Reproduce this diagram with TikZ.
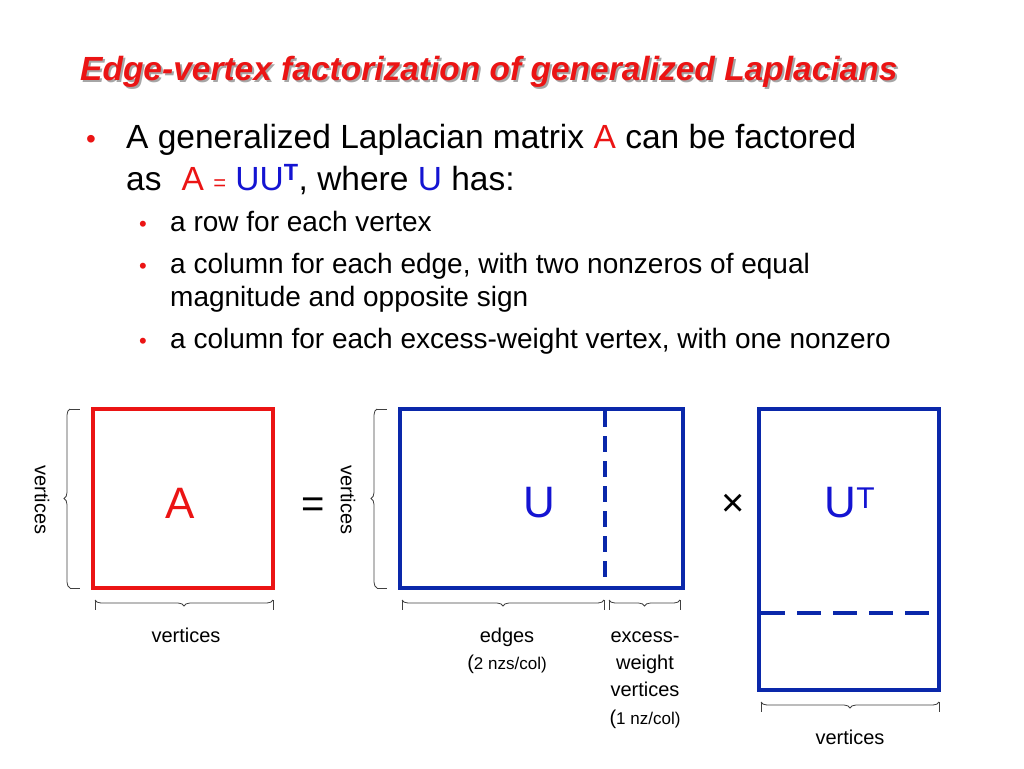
\documentclass[tikz,border=0pt]{standalone}
\usepackage{fontspec}
\setmainfont{Liberation Sans}
\usetikzlibrary{decorations.pathreplacing}
\definecolor{myred}{RGB}{235,20,20}
\definecolor{myblue}{RGB}{10,40,170}
\definecolor{txtblue}{RGB}{20,20,210}
\begin{document}
\begin{tikzpicture}[x=1pt,y=-1pt,
  mbox/.style={line width=3.5pt},
  brc/.style={decorate,decoration={brace,amplitude=6pt},line width=0.8pt,black!75},
  tick/.style={line width=0.8pt,black!75},
  lab/.style={font=\fontsize{20}{24}\selectfont,anchor=base},
  bul/.style={anchor=base west,inner sep=0pt,font=\fontsize{33.5}{38}\selectfont},
  sbul/.style={anchor=base west,inner sep=0pt,font=\fontsize{28}{32}\selectfont}]
\useasboundingbox (0,0) rectangle (1024,768);
% title
\node[anchor=base west,inner sep=0pt,font=\fontsize{33.5}{38}\selectfont\bfseries\itshape,text=black!35] (tsh) at (82,82) {Edge-vertex factorization of generalized Laplacians};
\node[anchor=base west,inner sep=0pt,font=\fontsize{33.5}{38}\selectfont\bfseries\itshape,text=myred] (t) at (80,80) {Edge-vertex factorization of generalized Laplacians};
% bullets
\node[sbul,text=myred] (b1) at (86,148) {•};
\node[bul] (l1) at (126,148) {A generalized Laplacian matrix \textcolor{myred}{A} can be factored};
\node[bul] (l2) at (126,190) {as\hspace{0.6em}\textcolor{myred}{A {\fontsize{22}{24}\selectfont =} }\textcolor{txtblue}{UU\textsuperscript{\bfseries T}}, where \textcolor{txtblue}{U} has:};
\node[sbul,text=myred,font=\fontsize{22}{24}\selectfont] (s1) at (139,231) {•};
\node[sbul] (s1t) at (170,231) {a row for each vertex};
\node[sbul,text=myred,font=\fontsize{22}{24}\selectfont] (s2) at (139,273) {•};
\node[sbul] (s2t) at (170,273) {a column for each edge, with two nonzeros of equal};
\node[sbul] (s2u) at (170,306) {magnitude and opposite sign};
\node[sbul,text=myred,font=\fontsize{22}{24}\selectfont] (s3) at (139,348) {•};
\node[sbul] (s3t) at (170,348) {a column for each excess-weight vertex, with one nonzero};
% matrices
\draw[mbox,myred] (93,409) rectangle (273,588);
\node[text=myred,font=\fontsize{44}{48}\selectfont] (A) at (180,503) {A};
\draw[mbox,myblue] (400,409) rectangle (683,588);
\draw[mbox,myblue,dash pattern=on 16pt off 9pt] (605,411) -- (605,586);
\node[text=txtblue,font=\fontsize{44}{48}\selectfont] (U) at (539,503) {U};
\draw[mbox,myblue] (759,409) rectangle (939,690);
\draw[mbox,myblue,dash pattern=on 24pt off 12pt] (761,613) -- (937,613);
\node[text=txtblue,font=\fontsize{44}{48}\selectfont] (UT) at (850,503) {U\textsuperscript{\fontsize{30}{30}\selectfont T}};
\node[font=\fontsize{40}{44}\selectfont] (eq) at (313,508) {=};
\node[font=\fontsize{40}{44}\selectfont] (x) at (733,505) {×};
% side braces
\draw[brc] (70,588) -- (70,409);
\draw[tick] (70,409) -- (80,409) (70,588) -- (80,588);
\node[lab,rotate=-90,anchor=center] (v1) at (42,500) {vertices};
\draw[brc] (377,588) -- (377,409);
\draw[tick] (377,409) -- (387,409) (377,588) -- (387,588);
\node[lab,rotate=-90,anchor=center] (v2) at (348,500) {vertices};
% bottom braces
\draw[brc] (273,600) -- (95,600);
\draw[tick] (95,600) -- (95,610) (273,600) -- (273,610);
\node[lab] (v3) at (186,642) {vertices};
\draw[brc] (604,600) -- (402,600);
\draw[tick] (402,600) -- (402,610) (604,600) -- (604,610);
\node[lab] (e1) at (507,642) {edges};
\node[lab] (e2) at (507,669) {(\fontsize{17}{20}\selectfont 2 nzs/col)};
\draw[brc] (680,600) -- (609,600);
\draw[tick] (609,600) -- (609,610) (680,600) -- (680,610);
\node[lab] (x1) at (645,642) {excess-};
\node[lab] (x2) at (645,669) {weight};
\node[lab] (x3) at (645,696) {vertices};
\node[lab] (x4) at (645,724) {(\fontsize{17}{20}\selectfont 1 nz/col)};
\draw[brc] (939,702) -- (761,702);
\draw[tick] (761,702) -- (761,712) (939,702) -- (939,712);
\node[lab] (v4) at (850,744) {vertices};
\end{tikzpicture}
\end{document}
